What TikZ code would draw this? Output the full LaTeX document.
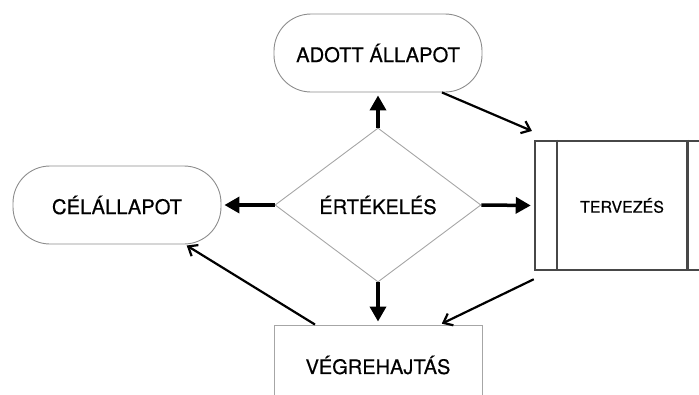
\documentclass[tikz,border=0pt]{standalone}
\usepackage{fontspec}
\setmainfont{TeX Gyre Heros}[FakeBold=0.4]
\usetikzlibrary{shapes.geometric,arrows.meta}
\tikzset{
  pill/.style={draw=black!45,line width=0.9pt,rounded corners=37pt,
    minimum width=208pt,minimum height=78pt,inner sep=0pt,font=\fontsize{20.2}{22}\selectfont},
  dia/.style={draw=black!35,line width=0.9pt,diamond,aspect=1.34,
    minimum width=206pt,minimum height=154pt,inner sep=0pt,font=\fontsize{20}{22}\selectfont},
  plainbox/.style={draw=black!35,line width=0.9pt,minimum width=208pt,minimum height=80pt,
    inner sep=0pt,font=\fontsize{20}{22}\selectfont},
  procbox/.style={draw=black!72,line width=2.5pt,minimum width=174pt,minimum height=129pt,
    inner sep=0pt,font=\fontsize{16}{18}\selectfont},
  fat/.style={line width=3.5pt,-{Triangle[length=15pt,width=16pt]}},
  thin/.style={line width=2.2pt,-{Straight Barb[length=8pt,width=13pt]}}
}
\begin{document}
\begin{tikzpicture}[x=1pt,y=-1pt]
      \useasboundingbox (0,0) rectangle (699,394);
      \clip (0,0) rectangle (699,394);
      \draw
        (378,53) node[pill] (adott){ADOTT ÁLLAPOT}
        (117,205) node[pill] (celall){CÉLÁLLAPOT}
        (378,205) node[dia] (ertek){ÉRTÉKELÉS}
        (622,205.5) node[procbox] (terv){TERVEZÉS}
        (378,365) node[plainbox] (vegre){VÉGREHAJTÁS};
      \draw[black!72,line width=2.5pt] ([xshift=23pt]terv.north west) -- ([xshift=23pt]terv.south west);
      \draw[black!72,line width=2.5pt] ([xshift=-23pt]terv.north east) -- ([xshift=-23pt]terv.south east);
      \begin{scope}[shorten >=3pt]
        \draw[fat] (ertek.north) to (adott.south);
        \draw[fat] (ertek.west) to (celall.east);
        \draw[fat] (ertek.east) to (terv.west);
        \draw[fat] (ertek.south) to (vegre.north);
      \end{scope}
      \begin{scope}[shorten >=2pt]
        \draw[thin] ([xshift=64pt]adott.south) to ([yshift=8pt]terv.north west);
        \draw[thin] ([yshift=-8pt]terv.south west) to ([xshift=62pt]vegre.north);
        \draw[thin] ([xshift=-63pt]vegre.north) to ([xshift=68pt]celall.south);
      \end{scope}
    \end{tikzpicture}
\end{document}
